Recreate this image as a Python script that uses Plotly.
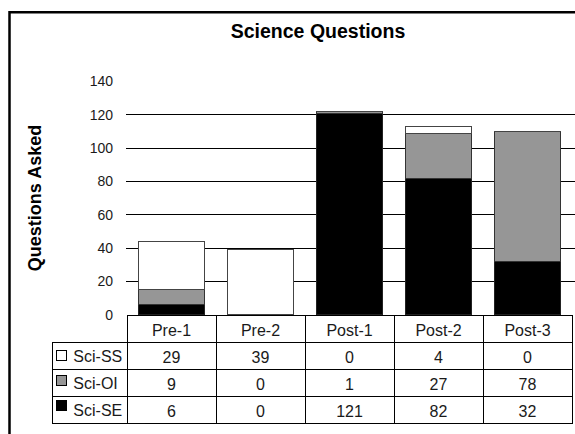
import plotly.graph_objects as go

categories = ["Pre-1", "Pre-2", "Post-1", "Post-2", "Post-3"]
sci_ss = [29, 39, 0, 4, 0]
sci_oi = [9, 0, 1, 27, 78]
sci_se = [6, 0, 121, 82, 32]
series_names = ["Sci-SS", "Sci-OI", "Sci-SE"]
series_colors = ["#ffffff", "#969696", "#000000"]
y_ticks = [0, 20, 40, 60, 80, 100, 120, 140]

W, H = 575, 434
FONT = "Arial, Liberation Sans, sans-serif"
NB = "\u00a0"

def px_x(v):
    return v / W

def px_y(v):
    return 1 - v / H

fig = go.Figure()

# stacked bars, bottom to top
fig.add_trace(go.Bar(x=categories, y=sci_se, name=series_names[2],
                     marker=dict(color=series_colors[2], line=dict(color="#222222", width=1))))
fig.add_trace(go.Bar(x=categories, y=sci_oi, name=series_names[1],
                     marker=dict(color=series_colors[1], line=dict(color="#333333", width=1))))
fig.add_trace(go.Bar(x=categories, y=sci_ss, name=series_names[0],
                     marker=dict(color=series_colors[0], line=dict(color="#444444", width=1))))

cell_font = dict(family=FONT, size=16, color="#1a1a1a")

# data table: header row = categories, cells = values
fig.add_trace(go.Table(
    domain=dict(x=[px_x(127), px_x(572)], y=[px_y(432), px_y(320)]),
    columnwidth=[1] * len(categories),
    header=dict(values=categories, fill_color="white",
                line=dict(color="#000000", width=1), height=27,
                align="center", font=cell_font),
    cells=dict(values=[[sci_ss[i], sci_oi[i], sci_se[i]] for i in range(len(categories))],
               fill_color="white", line=dict(color="#000000", width=1), height=27,
               align="center", font=cell_font),
))

# legend column of the table
legend_labels = [NB * 3 + s for s in series_names]
fig.add_trace(go.Table(
    domain=dict(x=[px_x(52), px_x(127)], y=[px_y(432), px_y(347)]),
    header=dict(values=[legend_labels[0]], fill_color="white",
                line=dict(color="#000000", width=1), height=27,
                align="left", font=cell_font),
    cells=dict(values=[legend_labels[1:]], fill_color="white",
               line=dict(color="#000000", width=1), height=27,
               align="left", font=cell_font),
))

# legend keys (small bordered squares) drawn over the legend column
key_rows_px = [360.5, 387, 413]
annotations = [dict(text="Questions Asked", textangle=-90, showarrow=False,
                    x=px_x(35), y=px_y(198), xref="paper", yref="paper",
                    xanchor="center", yanchor="middle",
                    font=dict(family=FONT, size=18, weight="bold", color="#000000"))]
for color, ypx in zip(series_colors, key_rows_px):
    annotations.append(dict(text=NB, showarrow=False, xref="paper", yref="paper",
                            x=px_x(61.5), y=px_y(ypx), xanchor="center", yanchor="middle",
                            width=9, height=9, bgcolor=color, bordercolor="#000000",
                            borderwidth=1, borderpad=0, font=dict(size=4)))

fig.update_layout(
    width=W, height=H,
    margin=dict(l=0, r=0, t=0, b=0),
    paper_bgcolor="white", plot_bgcolor="white",
    barmode="stack", bargap=0.25, showlegend=False,
    font=dict(family=FONT, color="#1a1a1a"),
    title=dict(text="Science Questions", x=px_x(318), y=px_y(31),
               xanchor="center", yanchor="middle",
               font=dict(family=FONT, size=19.5, weight="bold", color="#000000")),
    xaxis=dict(domain=[px_x(126), 1], range=[-0.5 - 1 / 89, -0.5 + 448 / 89],
               showticklabels=False, showgrid=False, zeroline=False, showline=False,
               ticks=""),
    yaxis=dict(domain=[px_y(319), px_y(76.1)], range=[0, 140.5],
               tickvals=y_ticks, ticks="", ticklabelstandoff=12,
               showgrid=True, gridcolor="#000000", gridwidth=1,
               zeroline=False, showline=False,
               tickfont=dict(family=FONT, size=14, color="#1a1a1a")),
    annotations=annotations,
    shapes=[dict(type="rect", xref="paper", yref="paper",
                 x0=px_x(9.5), x1=1.05, y0=-0.05, y1=px_y(5.5),
                 line=dict(color="#000000", width=2.5), layer="below")],
)

fig.write_html(
    "out.html",
    config={"displayModeBar": False},
    post_script="document.body.style.margin='0';document.body.style.overflow='hidden';",
)
